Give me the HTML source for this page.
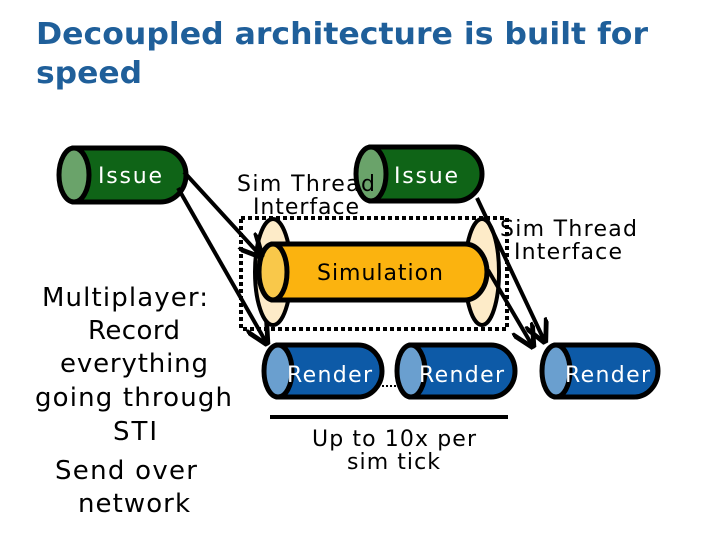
<!DOCTYPE html>
<html><head><style>
body{margin:0;width:720px;height:540px;background:#fff;overflow:hidden;font-family:"DejaVu Sans","Liberation Sans",sans-serif;}
</style></head><body>
<svg width="720" height="540" xmlns="http://www.w3.org/2000/svg" style="position:absolute;left:0;top:0">
<defs><marker id="a" markerWidth="6" markerHeight="6" refX="5" refY="3" orient="auto" markerUnits="strokeWidth"><path d="M0,0 L6,3 L0,6" fill="none" stroke="#000" stroke-width="1.2"/></marker></defs>
<text x="36" y="44" font-family="DejaVu Sans, sans-serif" font-weight="bold" font-size="30" fill="#1f5f9a" textLength="612" lengthAdjust="spacingAndGlyphs">Decoupled architecture is built for</text>
<text x="36" y="83" font-family="DejaVu Sans, sans-serif" font-weight="bold" font-size="30" fill="#1f5f9a" textLength="106" lengthAdjust="spacingAndGlyphs">speed</text>
<g stroke="#000" stroke-width="5">
<path d="M74,148 H160 A26,27 0 0 1 160,202 H74 Z" fill="#0f6417"/>
<ellipse cx="74" cy="175" rx="15" ry="27" fill="#6aa36a"/>
<path d="M371,147 H456 A26,27 0 0 1 456,201 H371 Z" fill="#0f6417"/>
<ellipse cx="371" cy="174" rx="15" ry="27" fill="#6aa36a"/>
<rect x="241" y="218" width="266" height="111" fill="none" stroke-width="4" stroke-dasharray="4,3"/>
<ellipse cx="273" cy="272" rx="18" ry="53" fill="#fdebc8" stroke-width="4"/>
<ellipse cx="482" cy="272" rx="17" ry="53" fill="#fdebc8" stroke-width="4"/>
<path d="M273,244 H465 A22,28 0 0 1 465,300 H273 Z" fill="#fbb30f"/>
<ellipse cx="273" cy="272" rx="14" ry="28" fill="#f9c84a"/>
<path d="M278,345 H358 A24,26 0 0 1 358,397 H278 Z" fill="#0d5aa7"/>
<ellipse cx="278" cy="371" rx="14" ry="26" fill="#6a9fcf"/>
<path d="M411,345 H491 A24,26 0 0 1 491,397 H411 Z" fill="#0d5aa7"/>
<ellipse cx="411" cy="371" rx="14" ry="26" fill="#6a9fcf"/>
<path d="M556,345 H634 A24,26 0 0 1 634,397 H556 Z" fill="#0d5aa7"/>
<ellipse cx="556" cy="371" rx="14" ry="26" fill="#6a9fcf"/>
<line x1="270" y1="417" x2="508" y2="417" stroke-width="4"/>
<line x1="184" y1="172" x2="260" y2="255" stroke-width="4" marker-end="url(#a)"/>
<line x1="178" y1="188" x2="266" y2="342" stroke-width="4" marker-end="url(#a)"/>
<line x1="477" y1="198" x2="544" y2="340" stroke-width="4" marker-end="url(#a)"/>
<line x1="488" y1="270" x2="532" y2="345" stroke-width="4" marker-end="url(#a)"/>
</g>
<line x1="382" y1="386" x2="396" y2="386" stroke="#000" stroke-width="2" stroke-dasharray="2,2"/>
<g font-family="DejaVu Sans, sans-serif" font-size="22" lengthAdjust="spacingAndGlyphs">
<text x="98" y="183" fill="#fff" textLength="64">Issue</text>
<text x="394" y="183" fill="#fff" textLength="64">Issue</text>
<text x="237" y="191" textLength="138">Sim Thread</text>
<text x="253" y="214" textLength="106">Interface</text>
<text x="500" y="236" textLength="137">Sim Thread</text>
<text x="514" y="259" textLength="108">Interface</text>
<text x="317" y="280" textLength="126">Simulation</text>
<text x="287" y="382" fill="#fff" textLength="85">Render</text>
<text x="419" y="382" fill="#fff" textLength="85">Render</text>
<text x="565" y="382" fill="#fff" textLength="85">Render</text>
<text x="312" y="446" textLength="164">Up to 10x per</text>
<text x="347" y="469" textLength="93">sim tick</text>
</g>
<g font-family="DejaVu Sans, sans-serif" font-size="26" lengthAdjust="spacingAndGlyphs">
<text x="42" y="306" textLength="166">Multiplayer:</text>
<text x="88" y="339" textLength="92">Record</text>
<text x="60" y="372" textLength="148">everything</text>
<text x="35" y="406" textLength="197">going through</text>
<text x="113" y="440" textLength="44">STI</text>
<text x="55" y="479" textLength="142">Send over</text>
<text x="78" y="512" textLength="112">network</text>
</g>
</svg>
</body></html>
